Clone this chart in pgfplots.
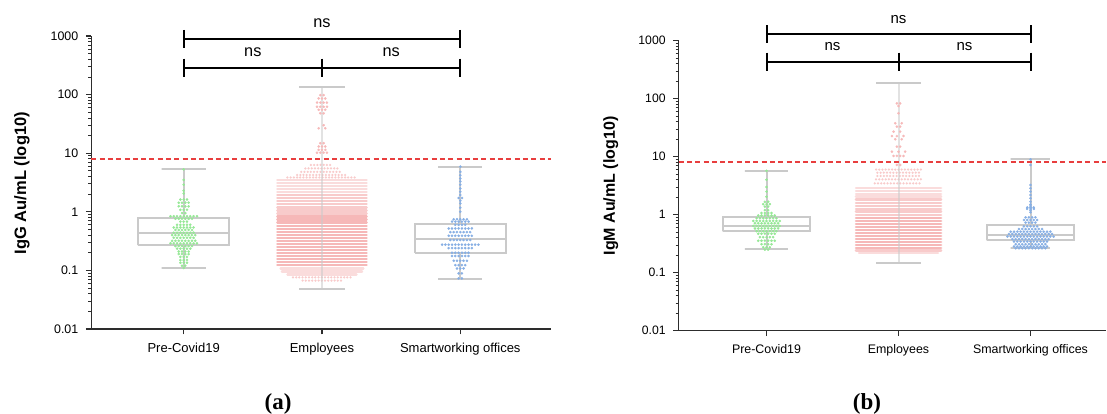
\documentclass[border=0pt]{standalone}
\usepackage{fontspec}
\usepackage{pgfplots}
\usepackage{pgfplotstable}
\pgfplotsset{compat=1.18}
\newfontfamily\arial{Liberation Sans}
\newfontfamily\lserif{Liberation Serif}
\newcommand\fs[1]{\fontsize{#1}{#1}\selectfont}
\definecolor{boxgray}{RGB}{202,202,202}
\definecolor{axgray}{RGB}{45,45,45}
\definecolor{greendot}{RGB}{150,232,150}
\definecolor{bluedot}{RGB}{135,175,228}
\definecolor{pinkdot}{RGB}{240,140,140}
\definecolor{pinklight}{RGB}{246,185,185}
\definecolor{reddash}{RGB}{232,62,62}

% ---------- Panel (a) IgG ----------
\pgfplotstableread[row sep=\\]{
k v\\
0 5.3\\ 0 3.5\\ 0 2.9\\ 0 2.3\\ 0 2.05\\
-1 1.62\\ 0 1.62\\ 1 1.62\\
-1.5 1.43\\ -0.5 1.43\\ 0.5 1.43\\ 1.5 1.43\\
-1.5 1.24\\ -0.5 1.24\\ 0.5 1.24\\ 1.5 1.24\\
-1 1.08\\ 0 1.08\\ 1 1.08\\
-0.5 0.95\\ 0.5 0.95\\
-4 0.84\\ -3 0.84\\ -2 0.84\\ -1 0.84\\ 0 0.84\\ 1 0.84\\ 2 0.84\\ 3 0.84\\ 4 0.84\\
-2.5 0.76\\ -1.5 0.76\\ -0.5 0.76\\ 0.5 0.76\\ 1.5 0.76\\ 2.5 0.76\\
-1 0.68\\ 0 0.68\\ 1 0.68\\
-2 0.6\\ -1 0.6\\ 0 0.6\\ 1 0.6\\ 2 0.6\\
-3 0.54\\ -2 0.54\\ -1 0.54\\ 0 0.54\\ 1 0.54\\ 2 0.54\\ 3 0.54\\
-2.5 0.49\\ -1.5 0.49\\ -0.5 0.49\\ 0.5 0.49\\ 1.5 0.49\\ 2.5 0.49\\
-3 0.44\\ -2 0.44\\ -1 0.44\\ 0 0.44\\ 1 0.44\\ 2 0.44\\ 3 0.44\\
-3.5 0.40\\ -2.5 0.40\\ -1.5 0.40\\ -0.5 0.40\\ 0.5 0.40\\ 1.5 0.40\\ 2.5 0.40\\ 3.5 0.40\\
-3 0.36\\ -2 0.36\\ -1 0.36\\ 0 0.36\\ 1 0.36\\ 2 0.36\\ 3 0.36\\
-3.5 0.32\\ -2.5 0.32\\ -1.5 0.32\\ -0.5 0.32\\ 0.5 0.32\\ 1.5 0.32\\ 2.5 0.32\\ 3.5 0.32\\
-4 0.29\\ -3 0.29\\ -2 0.29\\ -1 0.29\\ 0 0.29\\ 1 0.29\\ 2 0.29\\ 3 0.29\\ 4 0.29\\
-2.5 0.26\\ -1.5 0.26\\ -0.5 0.26\\ 0.5 0.26\\ 1.5 0.26\\ 2.5 0.26\\
-2 0.235\\ -1 0.235\\ 0 0.235\\ 1 0.235\\ 2 0.235\\
-1.5 0.21\\ -0.5 0.21\\ 0.5 0.21\\ 1.5 0.21\\
-1.5 0.19\\ -0.5 0.19\\ 0.5 0.19\\ 1.5 0.19\\
-1 0.17\\ 0 0.17\\ 1 0.17\\
-1 0.15\\ 0 0.15\\ 1 0.15\\
-1 0.135\\ 0 0.135\\ 1 0.135\\
-0.5 0.12\\ 0.5 0.12\\
0 0.11\\
}\greenA

\pgfplotstableread[row sep=\\]{
k v\\
0 5.9\\ 0 4.8\\ 0 4.2\\ 0 3.7\\ 0 3.3\\ 0 2.9\\ 0 2.5\\ 0 2.2\\ 0 1.94\\
-0.5 1.72\\ 0.5 1.72\\ 0 1.55\\ 0 1.39\\ 0 1.17\\ 0 1.0\\
-2 0.745\\ -1 0.745\\ 0 0.745\\ 1 0.745\\ 2 0.745\\
-2.5 0.68\\ -1.5 0.68\\ -0.5 0.68\\ 0.5 0.68\\ 1.5 0.68\\ 2.5 0.68\\
-1.5 0.6\\ -0.5 0.6\\ 0.5 0.6\\ 1.5 0.6\\
-3.5 0.52\\ -2.5 0.52\\ -1.5 0.52\\ -0.5 0.52\\ 0.5 0.52\\ 1.5 0.52\\ 2.5 0.52\\ 3.5 0.52\\
-3 0.45\\ -2 0.45\\ -1 0.45\\ 0 0.45\\ 1 0.45\\ 2 0.45\\ 3 0.45\\
-3.5 0.39\\ -2.5 0.39\\ -1.5 0.39\\ -0.5 0.39\\ 0.5 0.39\\ 1.5 0.39\\ 2.5 0.39\\ 3.5 0.39\\
-3 0.33\\ -2 0.33\\ -1 0.33\\ 0 0.33\\ 1 0.33\\ 2 0.33\\ 3 0.33\\
-5.5 0.275\\ -4.5 0.275\\ -3.5 0.275\\ -2.5 0.275\\ -1.5 0.275\\ -0.5 0.275\\ 0.5 0.275\\ 1.5 0.275\\ 2.5 0.275\\ 3.5 0.275\\ 4.5 0.275\\ 5.5 0.275\\
-3.5 0.24\\ -2.5 0.24\\ -1.5 0.24\\ -0.5 0.24\\ 0.5 0.24\\ 1.5 0.24\\ 2.5 0.24\\ 3.5 0.24\\
-2.5 0.2\\ -1.5 0.2\\ -0.5 0.2\\ 0.5 0.2\\ 1.5 0.2\\ 2.5 0.2\\
-2.5 0.176\\ -1.5 0.176\\ -0.5 0.176\\ 0.5 0.176\\ 1.5 0.176\\ 2.5 0.176\\
-2 0.146\\ -1 0.146\\ 0 0.146\\ 1 0.146\\ 2 0.146\\
-1.5 0.123\\ -0.5 0.123\\ 0.5 0.123\\ 1.5 0.123\\
-1 0.108\\ 0 0.108\\ 1 0.108\\
-0.5 0.089\\ 0.5 0.089\\
-0.5 0.073\\ 0.5 0.073\\
}\blueA

\pgfplotstableread[row sep=\\]{
k v\\
-0.5 98\\ 0.5 98\\ -1 86\\ 0 86\\ 1 86\\
-1.5 73\\ -0.5 73\\ 0.5 73\\ 1.5 73\\
-1.5 62\\ -0.5 62\\ 0.5 62\\ 1.5 62\\
-1 55\\ 0 55\\ 1 55\\ -0.5 48\\ 0.5 48\\
0.5 30\\ -1 26.6\\ 1 26.6\\
-0.5 14.8\\ 0.5 14.8\\ -1 13\\ 0 13\\ 1 13\\
-1 11.4\\ 0 11.4\\ 1 11.4\\
-1.5 10.2\\ -0.5 10.2\\ 0.5 10.2\\ 1.5 10.2\\
}\pinkAsparse

% rows of the dense employee swarm (left end, right end, value), by density
\pgfplotstableread[row sep=\\]{
x v\\
1.92 6.3\\ 2.08 6.3\\ nan nan\\
1.88 5.5\\ 2.12 5.5\\ nan nan\\
1.85 4.8\\ 2.15 4.8\\ nan nan\\
1.82 4.25\\ 2.18 4.25\\ nan nan\\
1.75 3.85\\ 2.25 3.85\\ nan nan\\
1.79 0.076\\ 2.21 0.076\\ nan nan\\
1.86 0.067\\ 2.14 0.067\\
}\pinkAi

\pgfplotstableread[row sep=\\]{
x v\\
1.677 3.45\\ 2.323 3.45\\ nan nan\\
1.677 3.08\\ 2.323 3.08\\ nan nan\\
1.677 2.74\\ 2.323 2.74\\ nan nan\\
1.677 2.44\\ 2.323 2.44\\ nan nan\\
1.677 2.16\\ 2.323 2.16\\ nan nan\\
1.70 0.108\\ 2.30 0.108\\ nan nan\\
1.71 0.096\\ 2.29 0.096\\ nan nan\\
1.75 0.085\\ 2.25 0.085\\
}\pinkAii

\pgfplotstableread[row sep=\\]{
x v\\
1.677 1.92\\ 2.323 1.92\\ nan nan\\
1.677 1.70\\ 2.323 1.70\\ nan nan\\
1.677 1.51\\ 2.323 1.51\\ nan nan\\
1.677 1.34\\ 2.323 1.34\\ nan nan\\
1.677 1.19\\ 2.323 1.19\\ nan nan\\
1.677 1.054\\ 2.323 1.054\\ nan nan\\
1.677 0.935\\ 2.323 0.935\\
}\pinkAiii

\pgfplotstableread[row sep=\\]{
x v\\
1.677 0.830\\ 2.323 0.830\\ nan nan\\
1.677 0.736\\ 2.323 0.736\\ nan nan\\
1.677 0.653\\ 2.323 0.653\\ nan nan\\
1.677 0.579\\ 2.323 0.579\\ nan nan\\
1.677 0.514\\ 2.323 0.514\\ nan nan\\
1.677 0.456\\ 2.323 0.456\\ nan nan\\
1.677 0.405\\ 2.323 0.405\\ nan nan\\
1.677 0.359\\ 2.323 0.359\\ nan nan\\
1.677 0.318\\ 2.323 0.318\\ nan nan\\
1.677 0.282\\ 2.323 0.282\\ nan nan\\
1.677 0.251\\ 2.323 0.251\\ nan nan\\
1.677 0.222\\ 2.323 0.222\\ nan nan\\
1.677 0.197\\ 2.323 0.197\\ nan nan\\
1.677 0.175\\ 2.323 0.175\\ nan nan\\
1.677 0.155\\ 2.323 0.155\\ nan nan\\
1.677 0.138\\ 2.323 0.138\\ nan nan\\
1.677 0.122\\ 2.323 0.122\\
}\pinkAiv

% ---------- Panel (b) IgM ----------
\pgfplotstableread[row sep=\\]{
k v\\
0 5.7\\ 0 4.0\\ 0 3.0\\ 0 2.5\\ 0 2.04\\
-0.5 1.67\\ 0.5 1.67\\
-1 1.52\\ 0 1.52\\ 1 1.52\\
-0.5 1.38\\ 0.5 1.38\\
-0.5 1.2\\ 0.5 1.2\\
-1.5 1.07\\ -0.5 1.07\\ 0.5 1.07\\ 1.5 1.07\\
-2.5 0.97\\ -1.5 0.97\\ -0.5 0.97\\ 0.5 0.97\\ 1.5 0.97\\ 2.5 0.97\\
-3 0.87\\ -2 0.87\\ -1 0.87\\ 0 0.87\\ 1 0.87\\ 2 0.87\\ 3 0.87\\
-4 0.78\\ -3 0.78\\ -2 0.78\\ -1 0.78\\ 0 0.78\\ 1 0.78\\ 2 0.78\\ 3 0.78\\ 4 0.78\\
-3.5 0.71\\ -2.5 0.71\\ -1.5 0.71\\ -0.5 0.71\\ 0.5 0.71\\ 1.5 0.71\\ 2.5 0.71\\ 3.5 0.71\\
-4 0.64\\ -3 0.64\\ -2 0.64\\ -1 0.64\\ 0 0.64\\ 1 0.64\\ 2 0.64\\ 3 0.64\\ 4 0.64\\
-3.5 0.58\\ -2.5 0.58\\ -1.5 0.58\\ -0.5 0.58\\ 0.5 0.58\\ 1.5 0.58\\ 2.5 0.58\\ 3.5 0.58\\
-3 0.52\\ -2 0.52\\ -1 0.52\\ 0 0.52\\ 1 0.52\\ 2 0.52\\ 3 0.52\\
-2.5 0.47\\ -1.5 0.47\\ -0.5 0.47\\ 0.5 0.47\\ 1.5 0.47\\ 2.5 0.47\\
-2 0.41\\ -1 0.41\\ 0 0.41\\ 1 0.41\\ 2 0.41\\
-2.5 0.356\\ -1.5 0.356\\ -0.5 0.356\\ 0.5 0.356\\ 1.5 0.356\\ 2.5 0.356\\
-1.5 0.31\\ -0.5 0.31\\ 0.5 0.31\\ 1.5 0.31\\
-1 0.274\\ 0 0.274\\ 1 0.274\\
-0.5 0.25\\ 0.5 0.25\\
}\greenB

\pgfplotstableread[row sep=\\]{
k v\\
0 9.0\\ 0 7.2\\ 0 3.25\\ 0 2.85\\ 0 2.5\\ 0 2.19\\ 0 1.92\\ 0 1.68\\ 0 1.5\\
0 1.41\\ -1 1.33\\ 0 1.33\\ 1 1.33\\ -1 1.26\\ 0 1.26\\ 1 1.26\\ 0 1.19\\ 0 1.1\\
-1.5 0.9\\ -0.5 0.9\\ 0.5 0.9\\ 1.5 0.9\\
-2 0.81\\ -1 0.81\\ 0 0.81\\ 1 0.81\\ 2 0.81\\
-1.5 0.73\\ -0.5 0.73\\ 0.5 0.73\\ 1.5 0.73\\
-2 0.63\\ -1 0.63\\ 0 0.63\\ 1 0.63\\ 2 0.63\\
-3.5 0.565\\ -2.5 0.565\\ -1.5 0.565\\ -0.5 0.565\\ 0.5 0.565\\ 1.5 0.565\\ 2.5 0.565\\ 3.5 0.565\\
-6 0.51\\ -5 0.51\\ -4 0.51\\ -3 0.51\\ -2 0.51\\ -1 0.51\\ 0 0.51\\ 1 0.51\\ 2 0.51\\ 3 0.51\\ 4 0.51\\ 5 0.51\\ 6 0.51\\
-6.5 0.465\\ -5.5 0.465\\ -4.5 0.465\\ -3.5 0.465\\ -2.5 0.465\\ -1.5 0.465\\ -0.5 0.465\\ 0.5 0.465\\ 1.5 0.465\\ 2.5 0.465\\ 3.5 0.465\\ 4.5 0.465\\ 5.5 0.465\\ 6.5 0.465\\
-7 0.42\\ -6 0.42\\ -5 0.42\\ -4 0.42\\ -3 0.42\\ -2 0.42\\ -1 0.42\\ 0 0.42\\ 1 0.42\\ 2 0.42\\ 3 0.42\\ 4 0.42\\ 5 0.42\\ 6 0.42\\ 7 0.42\\
-5.5 0.38\\ -4.5 0.38\\ -3.5 0.38\\ -2.5 0.38\\ -1.5 0.38\\ -0.5 0.38\\ 0.5 0.38\\ 1.5 0.38\\ 2.5 0.38\\ 3.5 0.38\\ 4.5 0.38\\ 5.5 0.38\\
-5 0.345\\ -4 0.345\\ -3 0.345\\ -2 0.345\\ -1 0.345\\ 0 0.345\\ 1 0.345\\ 2 0.345\\ 3 0.345\\ 4 0.345\\ 5 0.345\\
-4.5 0.31\\ -3.5 0.31\\ -2.5 0.31\\ -1.5 0.31\\ -0.5 0.31\\ 0.5 0.31\\ 1.5 0.31\\ 2.5 0.31\\ 3.5 0.31\\ 4.5 0.31\\
-5 0.283\\ -4 0.283\\ -3 0.283\\ -2 0.283\\ -1 0.283\\ 0 0.283\\ 1 0.283\\ 2 0.283\\ 3 0.283\\ 4 0.283\\ 5 0.283\\
-4.5 0.264\\ -3.5 0.264\\ -2.5 0.264\\ -1.5 0.264\\ -0.5 0.264\\ 0.5 0.264\\ 1.5 0.264\\ 2.5 0.264\\ 3.5 0.264\\ 4.5 0.264\\
}\blueB

\pgfplotstableread[row sep=\\]{
k v\\
-0.5 83\\ 0.5 83\\ 0 75\\ 0 56\\ -1 37.7\\ 1 37.7\\
-0.5 33\\ 0.5 33\\ -1.5 27\\ 0.5 27\\
-2 22.7\\ -0.5 22.7\\ 1.5 22.7\\ -1 20\\ 1 20\\
-0.5 14.9\\ 0.5 14.9\\ -2 12.2\\ 0 12.2\\ 2 12.2\\
-1.5 10.3\\ -0.5 10.3\\ 0.5 10.3\\ 1.5 10.3\\
-0.5 7.2\\ 0.5 7.2\\
}\pinkBsparse

\pgfplotstableread[row sep=\\]{
x v\\
1.83 6.0\\ 2.17 6.0\\ nan nan\\
1.84 5.3\\ 2.16 5.3\\ nan nan\\
1.84 4.65\\ 2.16 4.65\\ nan nan\\
1.83 4.07\\ 2.17 4.07\\ nan nan\\
1.82 3.47\\ 2.18 3.47\\
}\pinkBi

\pgfplotstableread[row sep=\\]{
x v\\
1.677 2.92\\ 2.323 2.92\\ nan nan\\
1.677 2.59\\ 2.323 2.59\\ nan nan\\
1.677 2.30\\ 2.323 2.30\\ nan nan\\
1.677 2.05\\ 2.323 2.05\\ nan nan\\
1.70 0.221\\ 2.30 0.221\\
}\pinkBii

\pgfplotstableread[row sep=\\]{
x v\\
1.677 1.82\\ 2.323 1.82\\ nan nan\\
1.677 1.61\\ 2.323 1.61\\ nan nan\\
1.677 1.43\\ 2.323 1.43\\ nan nan\\
1.677 1.27\\ 2.323 1.27\\ nan nan\\
1.677 1.13\\ 2.323 1.13\\ nan nan\\
1.677 1.0\\ 2.323 1.0\\ nan nan\\
1.677 0.240\\ 2.323 0.240\\
}\pinkBiii

\pgfplotstableread[row sep=\\]{
x v\\
1.677 0.887\\ 2.323 0.887\\ nan nan\\
1.677 0.789\\ 2.323 0.789\\ nan nan\\
1.677 0.700\\ 2.323 0.700\\ nan nan\\
1.677 0.621\\ 2.323 0.621\\ nan nan\\
1.677 0.551\\ 2.323 0.551\\ nan nan\\
1.677 0.490\\ 2.323 0.490\\ nan nan\\
1.677 0.435\\ 2.323 0.435\\ nan nan\\
1.677 0.386\\ 2.323 0.386\\ nan nan\\
1.677 0.342\\ 2.323 0.342\\ nan nan\\
1.677 0.304\\ 2.323 0.304\\ nan nan\\
1.677 0.270\\ 2.323 0.270\\
}\pinkBiv

\pgfplotsset{
  every axis/.append style={
    scale only axis, ymode=log, ymin=0.01, ymax=1000,
    axis x line*=bottom, axis y line*=left,
    axis line style={-, draw=axgray, line width=1.1pt},
    xtick={1,2,3}, xticklabels={Pre-Covid19,Employees,Smartworking offices},
    ytick={0.01,0.1,1,10,100,1000}, yticklabels={0.01,0.1,1,10,100,1000},
    minor ytick={0.02,0.03,0.04,0.05,0.06,0.07,0.08,0.09,0.2,0.3,0.4,0.5,0.6,0.7,0.8,0.9,2,3,4,5,6,7,8,9,20,30,40,50,60,70,80,90,200,300,400,500,600,700,800,900},
    tick align=outside, major tick length=5.5pt, minor tick length=3pt,
    major tick style={draw=axgray, line width=1.1pt},
    minor tick style={draw=axgray, line width=0.8pt},
    clip=false, unbounded coords=jump,
  },
  myboxst/.style={draw=boxgray, line width=2pt, line join=miter},
  myrow/.style={draw=pinkdot, line width=2.5pt, line cap=round, dash pattern=on 0pt off 3.2pt, draw opacity=#1},
  mystripe/.style={draw=pinkdot, line width=2.3pt, line cap=round, draw opacity=#1},
  mydots/.style={only marks, color=#1, mark=*, mark size=1.15pt, mark options={fill=#1, draw=#1, line width=0.3pt}},
}

\begin{document}
\begin{tikzpicture}
\path[use as bounding box] (0,0) rectangle (1107pt,414pt);

% ===================== (a) =====================
\begin{axis}[
  at={(91.3pt,85pt)}, anchor=south west,
  width=459.7pt, height=293pt,
  xmin=0.332, xmax=3.656,
  xticklabel style={font=\arial\fs{13}, yshift=-5pt},
  yticklabel style={font=\arial\fs{12.4}, xshift=-4pt},
  ylabel={IgG Au/mL (log10)},
  ylabel style={font=\arial\bfseries\fs{16.5}, at={(axis description cs:-0.1508,0.498)}, anchor=center},
]
\addplot[myboxst] coordinates {(0.67,0.27) (1.33,0.27) (1.33,0.78) (0.67,0.78) (0.67,0.27) (0.67,0.43) (1.33,0.43)};
\addplot[myboxst] coordinates {(1,0.78) (1,5.4) (0.84,5.4) (1.16,5.4)};
\addplot[myboxst] coordinates {(1,0.27) (1,0.11) (0.84,0.11) (1.16,0.11)};
\addplot[myboxst] coordinates {(2.67,0.20) (3.33,0.20) (3.33,0.62) (2.67,0.62) (2.67,0.20) (2.67,0.345) (3.33,0.345)};
\addplot[myboxst] coordinates {(3,0.62) (3,5.8) (2.84,5.8) (3.16,5.8)};
\addplot[myboxst] coordinates {(3,0.20) (3,0.071) (2.84,0.071) (3.16,0.071)};
\addplot[myboxst] coordinates {(1.837,136) (2.163,136)};
\addplot[myboxst] coordinates {(1.837,0.049) (2.163,0.049)};
\addplot[myrow=0.45] table[x=x, y=v] {\pinkAi};
\addplot[mystripe=0.3] table[x=x, y=v] {\pinkAii};
\addplot[mystripe=0.45] table[x=x, y=v] {\pinkAiii};
\addplot[mystripe=0.62] table[x=x, y=v] {\pinkAiv};
\addplot[mydots=pinklight] table[x expr=2+0.0239*\thisrow{k}, y=v] {\pinkAsparse};
\addplot[myboxst, draw opacity=0.55] coordinates {(2,0.049) (2,136)};
\addplot[mydots=greendot] table[x expr=1+0.0239*\thisrow{k}, y=v] {\greenA};
\addplot[mydots=bluedot] table[x expr=3+0.0239*\thisrow{k}, y=v] {\blueA};
\addplot[draw=reddash, line width=2.3pt, dash pattern=on 5pt off 3.3pt] coordinates {(0.332,8) (3.656,8)};
\draw[black, line width=2pt] (axis cs:1,889) -- (axis cs:3,889);
\draw[black, line width=2pt] (axis cs:1,889) ++(0pt,9pt) -- ++(0pt,-18pt);
\draw[black, line width=2pt] (axis cs:3,889) ++(0pt,9pt) -- ++(0pt,-18pt);
\draw[black, line width=2pt] (axis cs:1,288) -- (axis cs:3,288);
\draw[black, line width=2pt] (axis cs:1,288) ++(0pt,9pt) -- ++(0pt,-18pt);
\draw[black, line width=2pt] (axis cs:2,288) ++(0pt,9pt) -- ++(0pt,-18pt);
\draw[black, line width=2pt] (axis cs:3,288) ++(0pt,9pt) -- ++(0pt,-18pt);
\node[font=\arial\fs{16.3}, yshift=15.5pt] at (axis cs:2,889) {ns};
\node[font=\arial\fs{16.3}, yshift=15.5pt] at (axis cs:1.5,288) {ns};
\node[font=\arial\fs{16.3}, yshift=15.5pt] at (axis cs:2.5,288) {ns};
\end{axis}

% ===================== (b) =====================
\begin{axis}[
  at={(678.6pt,83.3pt)}, anchor=south west,
  width=427.4pt, height=290pt,
  xmin=0.334, xmax=3.572,
  xticklabel style={font=\arial\fs{12.4}, yshift=-5pt},
  yticklabel style={font=\arial\fs{12.2}, xshift=-4pt},
  ylabel={IgM Au/mL (log10)},
  ylabel style={font=\arial\bfseries\fs{16}, at={(axis description cs:-0.159,0.499)}, anchor=center},
]
\addplot[myboxst] coordinates {(0.67,0.515) (1.33,0.515) (1.33,0.90) (0.67,0.90) (0.67,0.515) (0.67,0.63) (1.33,0.63)};
\addplot[myboxst] coordinates {(1,0.90) (1,5.7) (0.836,5.7) (1.164,5.7)};
\addplot[myboxst] coordinates {(1,0.515) (1,0.255) (0.836,0.255) (1.164,0.255)};
\addplot[myboxst] coordinates {(2.672,0.36) (3.328,0.36) (3.328,0.67) (2.672,0.67) (2.672,0.36) (2.672,0.44) (3.328,0.44)};
\addplot[myboxst] coordinates {(3,0.67) (3,9.0) (2.85,9.0) (3.15,9.0)};
\addplot[myboxst] coordinates {(3,0.36) (3,0.265) (2.85,0.265) (3.15,0.265)};
\addplot[myboxst] coordinates {(1.833,185) (2.167,185)};
\addplot[myboxst] coordinates {(1.833,0.149) (2.167,0.149)};
\addplot[myrow=0.45] table[x=x, y=v] {\pinkBi};
\addplot[mystripe=0.3] table[x=x, y=v] {\pinkBii};
\addplot[mystripe=0.45] table[x=x, y=v] {\pinkBiii};
\addplot[mystripe=0.62] table[x=x, y=v] {\pinkBiv};
\addplot[mydots=pinklight] table[x expr=2+0.025*\thisrow{k}, y=v] {\pinkBsparse};
\addplot[myboxst, draw opacity=0.55] coordinates {(2,0.149) (2,185)};
\addplot[mydots=greendot] table[x expr=1+0.025*\thisrow{k}, y=v] {\greenB};
\addplot[mydots=bluedot] table[x expr=3+0.025*\thisrow{k}, y=v] {\blueB};
\addplot[draw=reddash, line width=2.3pt, dash pattern=on 5pt off 3.3pt] coordinates {(0.334,8) (3.572,8)};
\draw[black, line width=2pt] (axis cs:1,1290) -- (axis cs:3,1290);
\draw[black, line width=2pt] (axis cs:1,1290) ++(0pt,9pt) -- ++(0pt,-18pt);
\draw[black, line width=2pt] (axis cs:3,1290) ++(0pt,9pt) -- ++(0pt,-18pt);
\draw[black, line width=2pt] (axis cs:1,434) -- (axis cs:3,434);
\draw[black, line width=2pt] (axis cs:1,434) ++(0pt,9pt) -- ++(0pt,-18pt);
\draw[black, line width=2pt] (axis cs:2,434) ++(0pt,9pt) -- ++(0pt,-18pt);
\draw[black, line width=2pt] (axis cs:3,434) ++(0pt,9pt) -- ++(0pt,-18pt);
\node[font=\arial\fs{15}, yshift=14.9pt] at (axis cs:2,1290) {ns};
\node[font=\arial\fs{15}, yshift=15pt] at (axis cs:1.5,434) {ns};
\node[font=\arial\fs{15}, yshift=15pt] at (axis cs:2.5,434) {ns};
\end{axis}

\node[font=\lserif\bfseries\fs{23}] at (278pt,10.5pt) {(a)};
\node[font=\lserif\bfseries\fs{23}] at (867pt,10.5pt) {(b)};
\end{tikzpicture}
\end{document}
